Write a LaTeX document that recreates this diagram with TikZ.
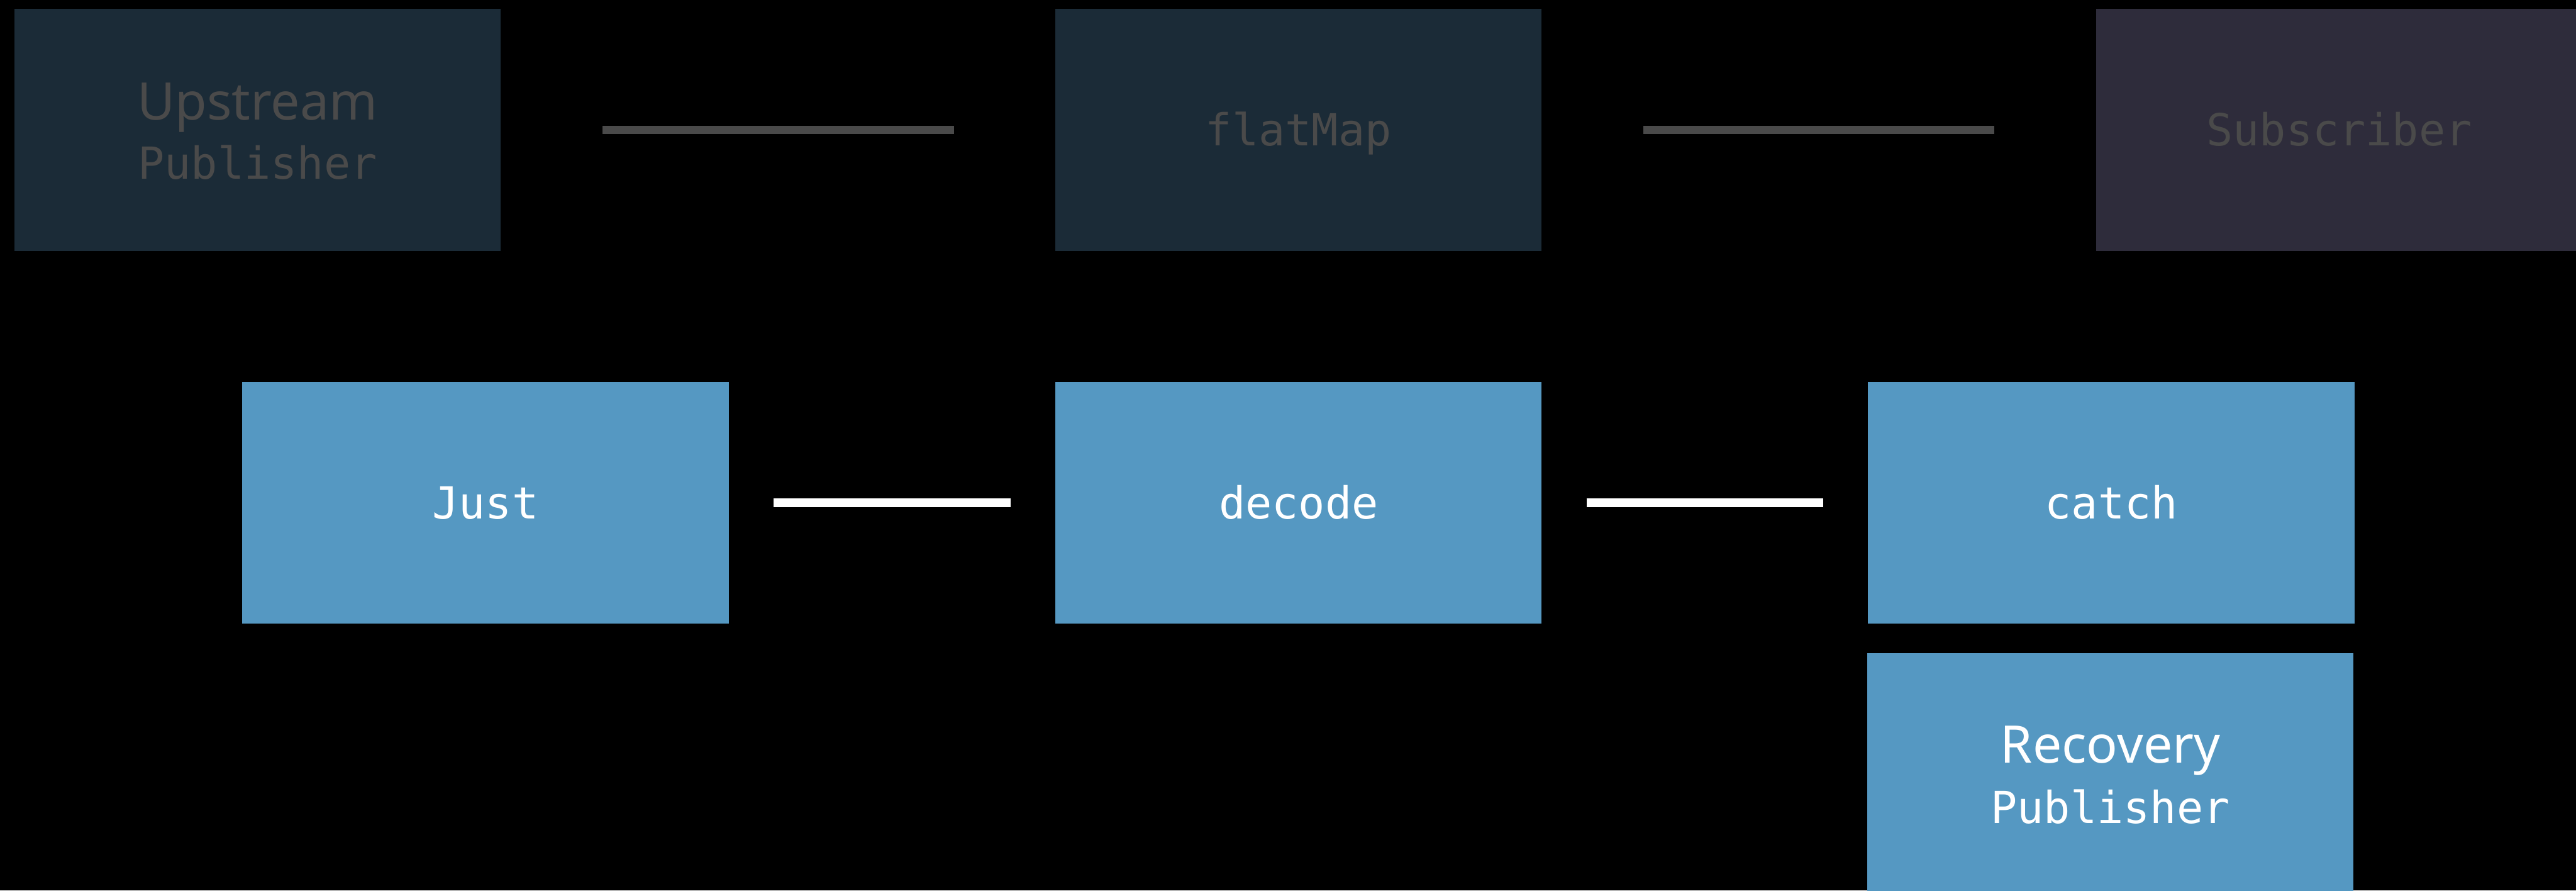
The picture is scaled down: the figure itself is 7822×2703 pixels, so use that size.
\documentclass[tikz,border=0pt]{standalone}
\usepackage{fontspec}
\setmainfont{Noto Sans}
\setmonofont{DejaVu Sans Mono}
\definecolor{dimteal}{HTML}{1B2B37}
\definecolor{dimplum}{HTML}{2E2C3B}
\definecolor{dimgrey}{HTML}{4A4A4A}
\definecolor{stageblue}{HTML}{5598C2}
\begin{document}
\begin{tikzpicture}[x=0.01cm,y=-0.01cm,
  pbox/.style={rectangle, minimum width=14.76cm, minimum height=7.34cm,
    inner sep=0pt, outer sep=0pt},
  faded/.style={pbox, fill=dimteal},
  fadedsink/.style={pbox, fill=dimplum},
  active/.style={pbox, fill=stageblue},
  codetext/.style={anchor=base, inner sep=0pt,
    font=\ttfamily\fontsize{38.1}{45}\selectfont},
  wordtext/.style={anchor=base, inner sep=0pt,
    font=\fontsize{44.7}{53}\selectfont},
  fadedlink/.style={draw=dimgrey, line width=0.26cm,
    shorten <=3.08cm, shorten >=3.08cm},
  activelink/.style={draw=white, line width=0.27cm,
    shorten <=1.36cm, shorten >=1.36cm},
]
% canvas
\fill[black] (0,0) rectangle (7822,2703);
\useasboundingbox (0,0) rectangle (7822,2703);
\clip (0,0) rectangle (7822,2703);

% upper chain (faded)
\node[faded] (up) at (782,394) {};
\node[faded] (fm) at (3943,394) {};
\node[fadedsink] (sub) at (7103,394) {};
\node[wordtext, text=dimgrey] (upA) at ([yshift=0.31cm]up.center) {Upstream};
\node[codetext, text=dimgrey] (upB) at ([yshift=-1.49cm]up.center) {Publisher};
\node[codetext, text=dimgrey] (fmT) at ([yshift=-0.49cm]fm.center) {flatMap};
\node[codetext, text=dimgrey] (subT) at ([yshift=-0.49cm]sub.center) {Subscriber};
\draw[fadedlink] (up) -- (fm);
\draw[fadedlink] (fm) -- (sub);

% lower chain
\node[active] (just) at (1474,1526) {};
\node[active] (dec) at (3943,1526) {};
\node[active] (cat) at (6411,1526) {};
\node[active] (rec) at (6408,2349) {};
\node[codetext, text=white] (justT) at ([yshift=-0.49cm]just.center) {Just};
\node[codetext, text=white] (decT) at ([yshift=-0.49cm]dec.center) {decode};
\node[codetext, text=white] (catT) at ([yshift=-0.49cm]cat.center) {catch};
\node[wordtext, text=white] (recA) at ([yshift=0.33cm]rec.center) {Recovery};
\node[codetext, text=white] (recB) at ([yshift=-1.49cm]rec.center) {Publisher};
\draw[activelink] (just) -- (dec);
\draw[activelink] (dec) -- (cat);
\end{tikzpicture}
\end{document}
